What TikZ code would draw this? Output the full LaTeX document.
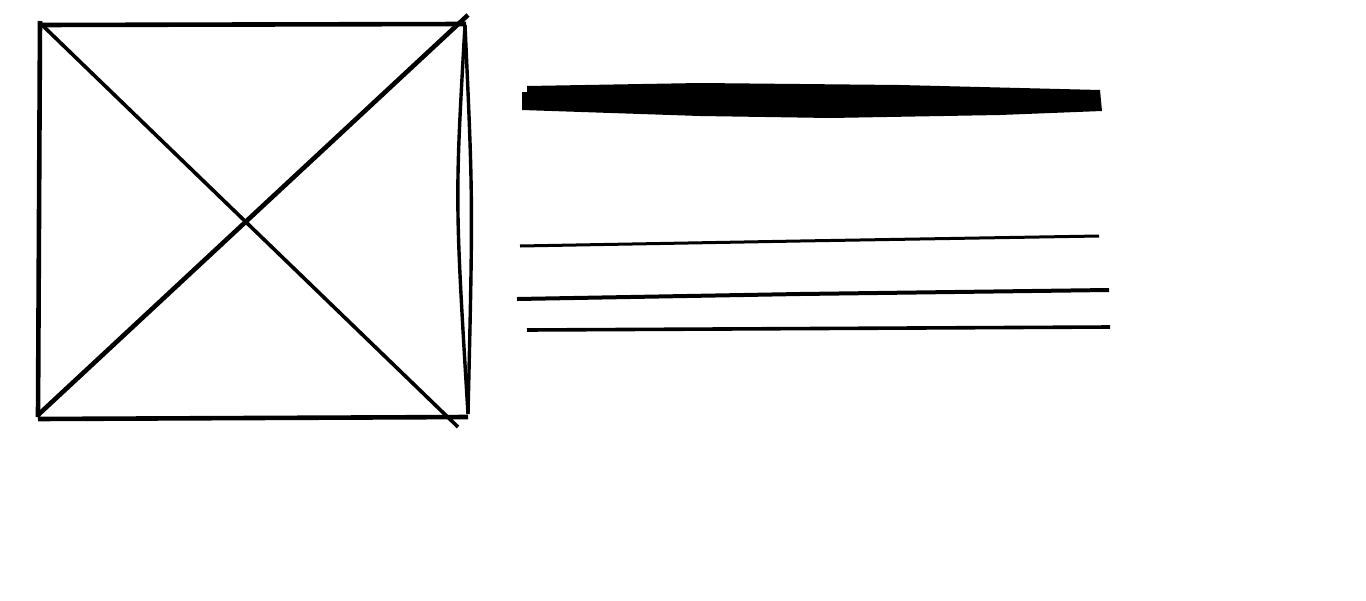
\documentclass[tikz,border=0pt]{standalone}
\begin{document}
\begin{tikzpicture}[x=1pt,y=-1pt,line join=round,
  stroke/.style={draw=black,line width=#1}]
\useasboundingbox[fill=white] (0,0) rectangle (1366,600);
% image placeholder box
\draw[stroke=4.6pt] (39,25) -- (466,24);
\draw[stroke=4.6pt] (40,21) -- (38,417);
\draw[stroke=4.6pt] (38,419) -- (468,417);
\draw[stroke=3.4pt] (465,25) .. controls (455,200) .. (468,414);
\draw[stroke=3.4pt] (465,25) .. controls (473,200) .. (468,414);
\draw[stroke=3.6pt] (40,23) -- (458,427);
\draw[stroke=4.6pt] (38,415) -- (468,15);
% heading bar
\fill[black] (522,92) -- (527,92) -- (527,86) -- (700,83) -- (900,85) -- (1100,90)
  -- (1102,111) -- (1000,115) -- (830,118) -- (700,116) -- (522,110) -- cycle;
% text lines
\draw[stroke=3pt] (520,246) -- (800,241) -- (1099,236);
\draw[stroke=4pt] (517,299) -- (800,294) -- (1109,290);
\draw[stroke=3.6pt] (527,330) -- (1110,327);
\end{tikzpicture}
\end{document}
